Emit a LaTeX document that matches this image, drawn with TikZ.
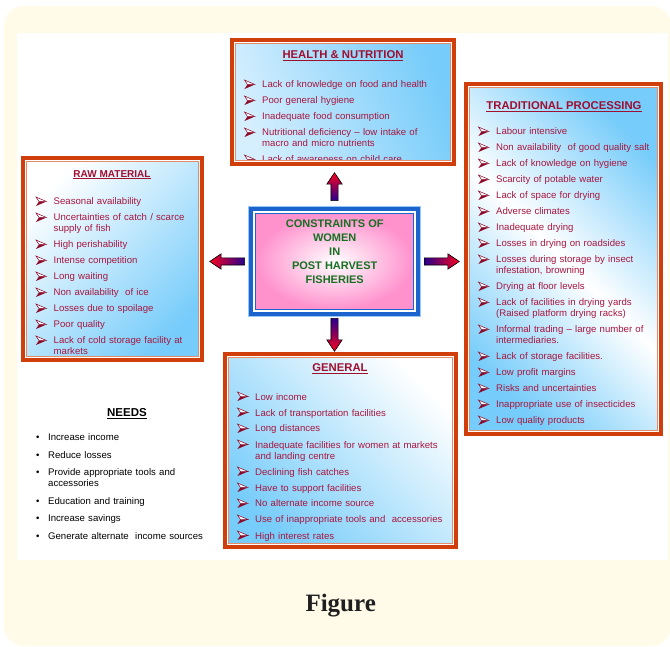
\documentclass[tikz,border=0pt]{standalone}
\usepackage{fontspec}
\setmainfont{Liberation Sans}
\newfontfamily\capfont{Liberation Serif}
\usetikzlibrary{calc,positioning,shapes.arrows}

\definecolor{cream}{RGB}{255,251,232}
\definecolor{panelred}{RGB}{208,62,12}
\definecolor{panelsalmon}{RGB}{226,140,110}
\definecolor{skyb}{RGB}{118,204,250}
\definecolor{paleb}{RGB}{214,239,254}
\definecolor{itemred}{RGB}{168,22,62}
\definecolor{titlered}{RGB}{160,14,48}
\definecolor{bulred}{RGB}{140,10,40}
\definecolor{hubblue}{RGB}{28,100,205}
\definecolor{hubpale}{RGB}{150,200,245}
\definecolor{hubpink}{RGB}{255,145,205}
\definecolor{hubgreen}{RGB}{22,112,34}
\definecolor{arrtail}{RGB}{40,0,140}
\definecolor{arrhead}{RGB}{250,0,30}

\newcommand\arrbul{\tikz[baseline=0.5pt,x=1pt,y=1pt]{%
  \fill[bulred] (0,-0.5)--(10.5,4)--(3,4)--cycle;
  \draw[bulred,line width=0.5pt,fill=white,line join=miter] (3,4)--(10.5,4)--(0,8.5)--cycle;}}
\newcommand\itm[1]{\noindent\hangindent=18pt\hangafter=1\makebox[18pt][l]{\arrbul}#1\par}
\newcommand\ndot[1]{\noindent\hangindent=12pt\hangafter=1\makebox[12pt][l]{\textbullet}#1\par}
\newcommand\panelframe[1]{%
  \draw[panelhi] ($(#1.north west)+(4.5,4.5)$) rectangle ($(#1.south east)+(-4.5,-4.5)$);
  \draw[panelline] ($(#1.north west)+(5.6,5.6)$) rectangle ($(#1.south east)+(-5.6,-5.6)$);}

\tikzset{
  panel/.style={draw=panelred, line width=4pt, outer sep=2pt, inner sep=0pt},
  panelhi/.style={draw=white, line width=1pt},
  panelline/.style={draw=panelsalmon, line width=0.8pt},
  ptitle/.style={anchor=base, inner sep=0pt, text=titlered, font=\fontsize{11.3}{13}\selectfont\bfseries},
  plist/.style={anchor=base west, inner sep=0pt, text=itemred, text width=#1, font=\fontsize{9.6}{11}\selectfont},
  hubtext/.style={align=center, inner sep=0pt, text=hubgreen, font=\fontsize{11}{14}\selectfont\bfseries},
  blockarr/.style={single arrow, draw=black, line width=0.6pt, inner sep=0pt,
    single arrow head extend=4.2pt, single arrow tip angle=68, minimum width=0pt},
  harr/.style={blockarr, inner ysep=3.25pt},
  varr/.style={blockarr, inner xsep=3.25pt}
}

\begin{document}
\begin{tikzpicture}[x=1pt,y=-1pt]
\useasboundingbox (0,0) rectangle (670,647);
\fill[cream, rounded corners=20pt] (4,6) rectangle (671,646);
\fill[white] (17,33) rectangle (668,560);

% the four panels
\node[panel, minimum width=222pt, minimum height=124pt, left color=paleb, right color=skyb, shading angle=110] (health) at (343,102) {};
\node[panel, minimum width=179pt, minimum height=202pt, left color=white, right color=skyb, shading angle=45] (raw) at (112.5,259) {};
\node[panel, minimum width=195pt, minimum height=350pt, left color=skyb, right color=skyb, middle color=white, shading angle=135] (trad) at (563.5,259) {};
\node[panel, minimum width=231pt, minimum height=193pt, left color=skyb, right color=white, shading angle=135] (general) at (340.5,450.5) {};

\node[ptitle] (healthTitle) at (343,59) {\underline{HEALTH \& NUTRITION}};
\begin{scope}
  \clip ($(health.north west)+(6,6)$) rectangle ($(health.south east)+(-6,-6)$);
  \node[plist=205pt] (healthList) at (244,88) {\setlength{\parskip}{5pt}%
    \itm{Lack of knowledge on food and health}
    \itm{Poor general hygiene}
    \itm{Inadequate food consumption}
    \itm{Nutritional deficiency -- low intake of\newline macro and micro nutrients}
    \itm{Lack of awareness on child care}};
\end{scope}

\node[ptitle, font=\fontsize{10}{12}\selectfont\bfseries] (rawTitle) at (112,177.3) {\underline{RAW MATERIAL}};
\node[plist=165pt] (rawList) at (35.5,205) {\setlength{\parskip}{5pt}%
  \itm{Seasonal availability}
  \itm{Uncertainties of catch / scarce\newline supply of fish}
  \itm{High perishability}
  \itm{Intense competition}
  \itm{Long waiting}
  \itm{Non availability\ \ of ice}
  \itm{Losses due to spoilage}
  \itm{Poor quality}
  \itm{Lack of cold storage facility at\newline markets}};

\node[ptitle] (tradTitle) at (564,110) {\underline{TRADITIONAL PROCESSING}};
\node[plist=180pt] (tradList) at (478,135) {\setlength{\parskip}{5pt}%
  \itm{Labour intensive}
  \itm{Non availability\ \ of good quality salt}
  \itm{Lack of knowledge on hygiene}
  \itm{Scarcity of potable water}
  \itm{Lack of space for drying}
  \itm{Adverse climates}
  \itm{Inadequate drying}
  \itm{Losses in drying on roadsides}
  \itm{Losses during storage by insect\newline infestation, browning}
  \itm{Drying at floor levels}
  \itm{Lack of facilities in drying yards\newline (Raised platform drying racks)}
  \itm{Informal trading -- large number of\newline intermediaries.}
  \itm{Lack of storage facilities.}
  \itm{Low profit margins}
  \itm{Risks and uncertainties}
  \itm{Inappropriate use of insecticides}
  \itm{Low quality products}};

\node[ptitle] (generalTitle) at (340,371.7) {\underline{GENERAL}};
\node[plist=215pt] (generalList) at (237,400) {\setlength{\parskip}{5pt}%
  \itm{Low income}
  \itm{Lack of transportation facilities}
  \itm{Long distances}
  \itm{Inadequate facilities for women at markets\newline and landing centre}
  \itm{Declining fish catches}
  \itm{Have to support facilities}
  \itm{No alternate income source}
  \itm{Use of inappropriate tools and\ \ accessories}
  \itm{High interest rates}};

\panelframe{health}
\panelframe{raw}
\panelframe{trad}
\panelframe{general}

% centre box
\node[fill=hubpale, minimum width=173pt, minimum height=111pt, inner sep=0pt, outer sep=0pt] (hub) at (334.5,261.5) {};
\fill[hubblue] ($(hub.north west)+(1.3,1.3)$) rectangle ($(hub.south east)+(-1.3,-1.3)$);
\fill[white] ($(hub.north west)+(4.6,4.6)$) rectangle ($(hub.south east)+(-4.6,-4.6)$);
\shade[inner color=white, outer color=hubpink, draw=hubblue, line width=1.6pt] ($(hub.north west)+(7.5,7.5)$) rectangle ($(hub.south east)+(-7.5,-7.5)$);
\node[hubtext] (hubText) at (334.7,252.2) {CONSTRAINTS OF\\WOMEN\\IN\\POST HARVEST\\FISHERIES};

% block arrows
\node[varr, shape border rotate=90, minimum height=28pt, top color=arrhead, bottom color=arrtail, above=5pt of hub] (upArr) {};
\node[harr, shape border rotate=180, minimum height=35pt, left color=arrhead, right color=arrtail, left=3pt of hub] (leftArr) {};
\node[harr, minimum height=35pt, left color=arrtail, right color=arrhead, right=3pt of hub] (rightArr) {};
\node[varr, shape border rotate=270, minimum height=33pt, top color=arrtail, bottom color=arrhead, below=1pt of hub] (downArr) {};

% needs
\node[anchor=base, inner sep=0pt, font=\fontsize{11.5}{13}\selectfont\bfseries] (needsTitle) at (127,416.7) {\underline{NEEDS}};
\node[plist=180pt, text=black] (needsList) at (36,440.7) {\setlength{\parskip}{6.5pt}%
  \ndot{Increase income}
  \ndot{Reduce losses}
  \ndot{Provide appropriate tools and\newline accessories}
  \ndot{Education and training}
  \ndot{Increase savings}
  \ndot{Generate alternate\ \ income sources}};

\node[anchor=base, inner sep=0pt, text=black!88, font=\capfont\bfseries\fontsize{25}{30}\selectfont] (caption) at (340.7,611.7) {Figure};
\end{tikzpicture}
\end{document}
